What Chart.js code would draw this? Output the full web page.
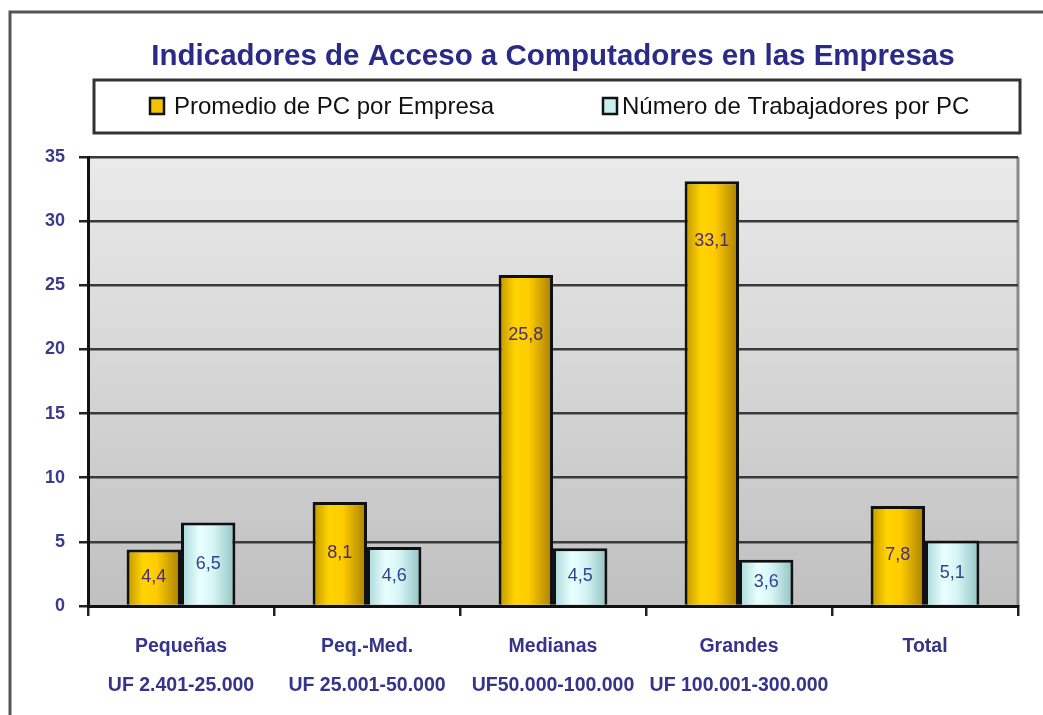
<!DOCTYPE html>
<html><head><meta charset="utf-8">
<script src="https://cdn.jsdelivr.net/npm/chart.js@4.4.0/dist/chart.umd.min.js"></script>
<style>html,body{margin:0;padding:0;background:#fff;}canvas{display:block;}</style>
</head><body>
<canvas id="c" width="1043" height="715"></canvas>
<script>
const categories = [["Pequeñas","UF 2.401-25.000"],["Peq.-Med.","UF 25.001-50.000"],["Medianas","UF50.000-100.000"],["Grandes","UF 100.001-300.000"],["Total",""]];
const seriesNames = ["Promedio de PC por Empresa","Número de Trabajadores por PC"];
const promedioPC = [4.4, 8.1, 25.8, 33.1, 7.8];
const trabajadoresPorPC = [6.5, 4.6, 4.5, 3.6, 5.1];
const yTicks = [0, 5, 10, 15, 20, 25, 30, 35];
const chartTitle = "Indicadores de Acceso a Computadores en las Empresas";

const CAT_PCT = 0.585, BAR_PCT = 1.0;
const goldStops = [[0,'#C09400'],[0.3,'#FFD400'],[0.55,'#FFCC00'],[1,'#A87E00']];
const cyanStops = [[0,'#A6D8D8'],[0.35,'#EAFFFF'],[0.6,'#D6F4F4'],[1,'#8FC2C2']];

function barGradient(c, di, stops) {
  const chart = c.chart, xs = chart.scales.x;
  if (!chart.chartArea || !xs || c.dataIndex === undefined) return stops[1][1];
  const center = xs.getPixelForValue(c.dataIndex);
  const catW = xs.width / categories.length;
  const bw = catW * CAT_PCT * BAR_PCT / 2;
  const left = di === 0 ? center - bw : center;
  const g = chart.ctx.createLinearGradient(left, 0, left + bw, 0);
  stops.forEach(s => g.addColorStop(s[0], s[1]));
  return g;
}

const decor = {
  id: 'decor',
  beforeDraw(chart) {
    const {ctx, chartArea: a} = chart;
    ctx.save();
    const g = ctx.createLinearGradient(0, a.top, 0, a.bottom);
    g.addColorStop(0, '#EAEAEA'); g.addColorStop(1, '#C0C0C0');
    ctx.fillStyle = g;
    ctx.fillRect(a.left, a.top, a.right - a.left, a.bottom - a.top);
    ctx.strokeStyle = '#8a8a8a'; ctx.lineWidth = 3;
    ctx.beginPath(); ctx.moveTo(a.right, a.top); ctx.lineTo(a.right, a.bottom); ctx.stroke();
    ctx.restore();
  },
  afterDatasetsDraw(chart) {
    const ctx = chart.ctx;
    ctx.save();
    ctx.font = '18px "Liberation Sans", Arial, sans-serif';
    ctx.textAlign = 'center'; ctx.textBaseline = 'middle';
    chart.data.datasets.forEach((ds, di) => {
      const meta = chart.getDatasetMeta(di);
      meta.data.forEach((bar, i) => {
        const y = Math.min((bar.y + bar.base) / 2, bar.y + 60);
        ctx.fillStyle = di === 0 ? '#4A2C78' : '#2E4296';
        ctx.fillText(ds.data[i].toFixed(1).replace('.', ','), bar.x, y);
      });
    });
    ctx.restore();
  },
  afterDraw(chart) {
    const ctx = chart.ctx;
    ctx.save();
    ctx.strokeStyle = '#555'; ctx.lineWidth = 3;
    ctx.beginPath(); ctx.moveTo(10, 715); ctx.lineTo(10, 12); ctx.lineTo(1043, 12); ctx.stroke();
    ctx.fillStyle = '#fff';
    ctx.fillRect(94, 80, 926, 53);
    ctx.strokeStyle = '#333'; ctx.lineWidth = 3;
    ctx.strokeRect(94, 80, 926, 53);
    const items = [
      {x: 150, tx: 174, w: 326, color: '#F5C400', text: seriesNames[0]},
      {x: 603, tx: 622, w: 354, color: '#C6EFEF', text: seriesNames[1]}
    ];
    ctx.font = '24px "Liberation Sans", Arial, sans-serif';
    ctx.textBaseline = 'middle'; ctx.textAlign = 'left';
    items.forEach(it => {
      ctx.fillStyle = it.color;
      ctx.fillRect(it.x, 98, 14, 16);
      ctx.strokeStyle = '#111'; ctx.lineWidth = 2.5;
      ctx.strokeRect(it.x, 98, 14, 16);
      ctx.fillStyle = '#111';
      ctx.fillText(it.text, it.tx, 107, it.w);
    });
    ctx.restore();
  }
};

new Chart(document.getElementById('c'), {
  type: 'bar',
  data: {
    labels: categories,
    datasets: [
      {label: seriesNames[0], data: promedioPC,
       backgroundColor: c => barGradient(c, 0, goldStops),
       borderColor: '#111', borderWidth: 3,
       categoryPercentage: CAT_PCT, barPercentage: BAR_PCT},
      {label: seriesNames[1], data: trabajadoresPorPC,
       backgroundColor: c => barGradient(c, 1, cyanStops),
       borderColor: '#111', borderWidth: 3,
       categoryPercentage: CAT_PCT, barPercentage: BAR_PCT}
    ]
  },
  options: {
    responsive: false,
    animation: false,
    layout: {padding: {left: 0, right: 25, top: 0, bottom: 0}},
    plugins: {
      legend: {display: false},
      tooltip: {enabled: false},
      title: {
        display: true, fullSize: false, text: chartTitle, color: '#2A2A88',
        font: {family: '"Liberation Sans", Arial, sans-serif', size: 29.5, weight: 'bold', lineHeight: 1.2},
        padding: {top: 39.3, bottom: 82.3}
      }
    },
    scales: {
      x: {
        afterFit(s) { s.height = 109; },
        grid: {offset: true, drawOnChartArea: false, drawTicks: true, tickLength: 10, color: '#222', lineWidth: 2.5},
        border: {color: '#111', width: 3},
        ticks: {color: '#34348A', padding: 11.5,
          font: {family: '"Liberation Sans", Arial, sans-serif', size: 19.5, weight: 'bold', lineHeight: 2.0}}
      },
      y: {
        min: 0, max: 35,
        afterFit(s) { s.width = 88; },
        afterBuildTicks(s) { s.ticks = yTicks.map(v => ({value: v})); },
        grid: {color: '#3a3a3a', lineWidth: 2.5, tickLength: 9, tickColor: '#222'},
        border: {color: '#111', width: 3},
        ticks: {color: '#3B3B8E', padding: 14,
          font: {family: '"Liberation Sans", Arial, sans-serif', size: 18, weight: 'bold'}}
      }
    }
  },
  plugins: [decor]
});
</script>
</body></html>
